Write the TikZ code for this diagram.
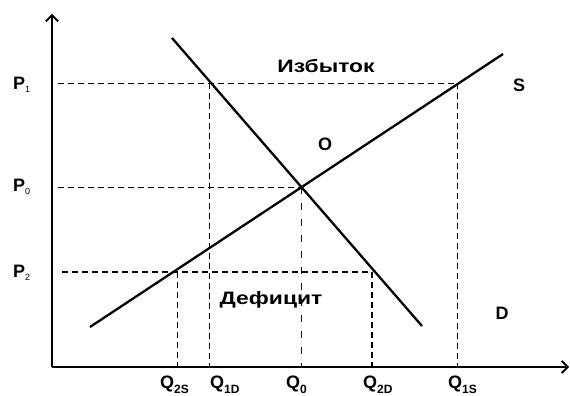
\documentclass[tikz,border=0pt]{standalone}
\usepackage{fontspec}
\setmainfont{Liberation Sans}
\newfontfamily\widefont[FakeStretch=1.27]{Liberation Sans}
\usetikzlibrary{arrows.meta}

\newcommand{\qlab}[1]{{\fontsize{18}{18}\selectfont Q}\raisebox{-5pt}{\fontsize{12}{12}\selectfont #1}}
\newcommand{\plab}[1]{{\bfseries\fontsize{18}{18}\selectfont P}\raisebox{-3pt}{\mdseries\fontsize{9}{9}\selectfont #1}}

\begin{document}
\begin{tikzpicture}[
        x=1pt, y=-1pt,
        axis/.style={line width=2pt, -{Straight Barb[length=6pt, width=12pt, line width=1.8pt]}},
        curve/.style={line width=2.3pt},
        guide/.style={line width=0.9pt, dash pattern=on 6pt off 4pt},
        guidebold/.style={line width=2pt, dash pattern=on 6pt off 4pt},
        lbl/.style={anchor=base, inner sep=0pt, font=\bfseries\fontsize{18}{18}\selectfont},
        qlbl/.style={anchor=base west, inner sep=0pt, font=\bfseries},
        word/.style={anchor=base, inner sep=0pt, font=\widefont\bfseries\fontsize{18}{18}\selectfont},
        plbl/.style={anchor=base west, inner sep=0pt}
    ]
        \useasboundingbox (0,0) rectangle (570,396);

        % Axes
        \coordinate (orig) at (52,367);
        \coordinate (ytop) at (52,14);
        \coordinate (xend) at (569,367);
        \draw [axis] (orig) -- (ytop);
        \draw [axis] (orig) -- (xend);

        % Supply and demand
        \coordinate (s0) at (90,327);
        \coordinate (s1) at (503,54);
        \coordinate (d0) at (172,38);
        \coordinate (d1) at (422,326);
        \draw [curve] (s0) -- (s1);
        \draw [curve] (d0) -- (d1);

        % Points on the curves
        \coordinate (eq) at (301,187);
        \coordinate (p1d) at (209,83);
        \coordinate (p1s) at (457,83);
        \coordinate (p2s) at (177,272);
        \coordinate (p2d) at (372,272);

        % Ends on the axes
        \coordinate (y1) at (58,83);
        \coordinate (y0) at (58,187);
        \coordinate (y2) at (62,272);
        \coordinate (q2s) at (177,367);
        \coordinate (q1d) at (209,367);
        \coordinate (q0) at (301,367);
        \coordinate (q2d) at (372,367);
        \coordinate (q1s) at (457,367);

        % Surplus
        \draw [guide] (y1) -- (p1s);
        \draw [guide] (p1d) -- (q1d);
        \draw [guide] (p1s) -- (q1s);

        % Equilibrium
        \draw [guide] (y0) -- (eq);
        \draw [guide, line width=0.7pt, dash pattern=on 7pt off 9pt] (eq) -- (q0);

        % Deficit
        \draw [guidebold] (y2) -- (p2d);
        \draw [guide] (p2s) -- (q2s);
        \draw [guidebold] (p2d) -- (q2d);

        % Labels
        \node (lp1) [plbl] at (13,89) {\plab{1}};
        \node (lp0) [plbl] at (13,191) {\plab{0}};
        \node (lp2) [plbl] at (13,277) {\plab{2}};

        \node (lq2s) [qlbl] at (160,388) {\qlab{2S}};
        \node (lq1d) [qlbl] at (210,388) {\qlab{1D}};
        \node (lq0) [qlbl] at (286,388) {\qlab{0}};
        \node (lq2d) [qlbl] at (363,388) {\qlab{2D}};
        \node (lq1s) [qlbl] at (448,388) {\qlab{1S}};

        \node (surplus) [word] at (326,73) {Избыток};
        \node (deficit) [word] at (271,304) {Дефицит};
        \node (lo) [lbl] at (325,150) {O};
        \node (ls) [lbl] at (519,92) {S};
        \node (ld) [lbl] at (502,319) {D};

    \end{tikzpicture}
\end{document}
